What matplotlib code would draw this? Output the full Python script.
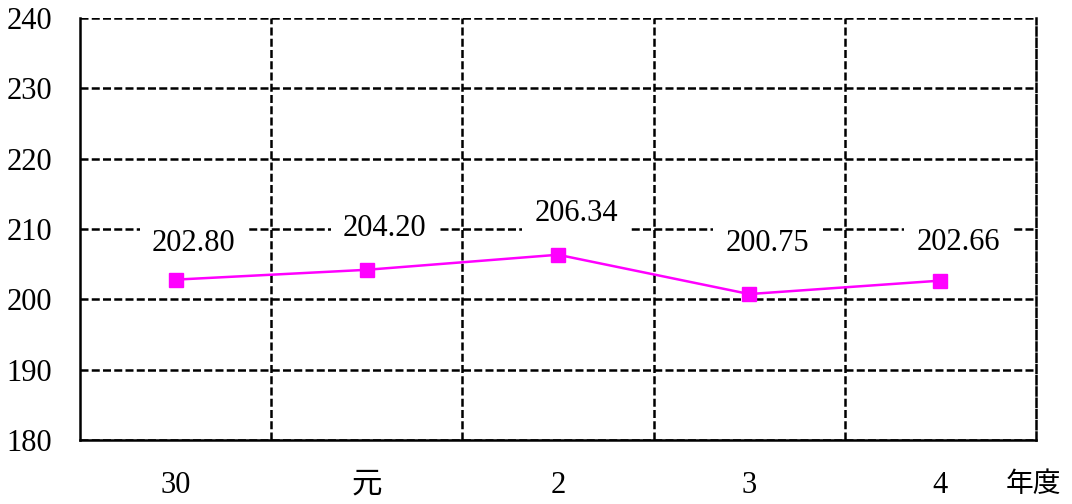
import matplotlib
matplotlib.use("Agg")
import matplotlib.pyplot as plt

# data
years = ["30", "元", "2", "3", "4"]
values = [202.80, 204.20, 206.34, 200.75, 202.66]
label_dy = [36, 41, 41, 51, 38]  # pixel offset of value labels above points

plt.rcParams['font.family'] = ['Liberation Serif', 'Noto Sans CJK JP', 'DejaVu Sans']

fig = plt.figure(figsize=(10.72, 5.04), dpi=100)
ax = fig.add_axes([80 / 1072, 1 - 440 / 504, 956 / 1072, 422 / 504])

x = [i + 0.5 for i in range(len(years))]
ax.plot(x, values, color='#FF00FF', lw=1.8, marker='s', markersize=10,
        zorder=4, clip_on=False)

for xi, v, dy in zip(x, values, label_dy):
    ax.annotate(f"{v:.2f}", (xi, v), xytext=(18, dy), textcoords='offset pixels',
                ha='center', va='center', fontsize=22,
                bbox=dict(boxstyle='square,pad=0.4', fc='white', ec='none'),
                zorder=5)

ax.set_xlim(0, len(years))
ax.set_ylim(180, 240)
ax.set_yticks(range(180, 241, 10))
ax.set_xticks(x)
ax.set_xticklabels(years)
ax.set_xticks(range(1, len(years)), minor=True)

dash = (0, (3.2, 1.3))
ax.grid(True, axis='y', which='major', color='black', lw=1.8, linestyle=dash, zorder=1)
ax.grid(True, axis='x', which='minor', color='black', lw=1.8, linestyle=dash, zorder=1)
ax.grid(False, axis='x', which='major')
ax.set_axisbelow(True)

ax.tick_params(axis='both', which='both', length=0, labelsize=22)
ax.tick_params(axis='y', pad=20)
ax.tick_params(axis='x', pad=22)

ax.spines['top'].set_visible(False)
ax.spines['right'].set_linestyle(dash)
for s in ['left', 'bottom', 'right']:
    ax.spines[s].set_linewidth(1.8)
    ax.spines[s].set_color('black')

ax.text((1006 - 80) / 956, -(485 - 440) / 422, "年度", transform=ax.transAxes,
        ha='left', va='center', fontsize=20)

fig.savefig("out.png", dpi=100)
